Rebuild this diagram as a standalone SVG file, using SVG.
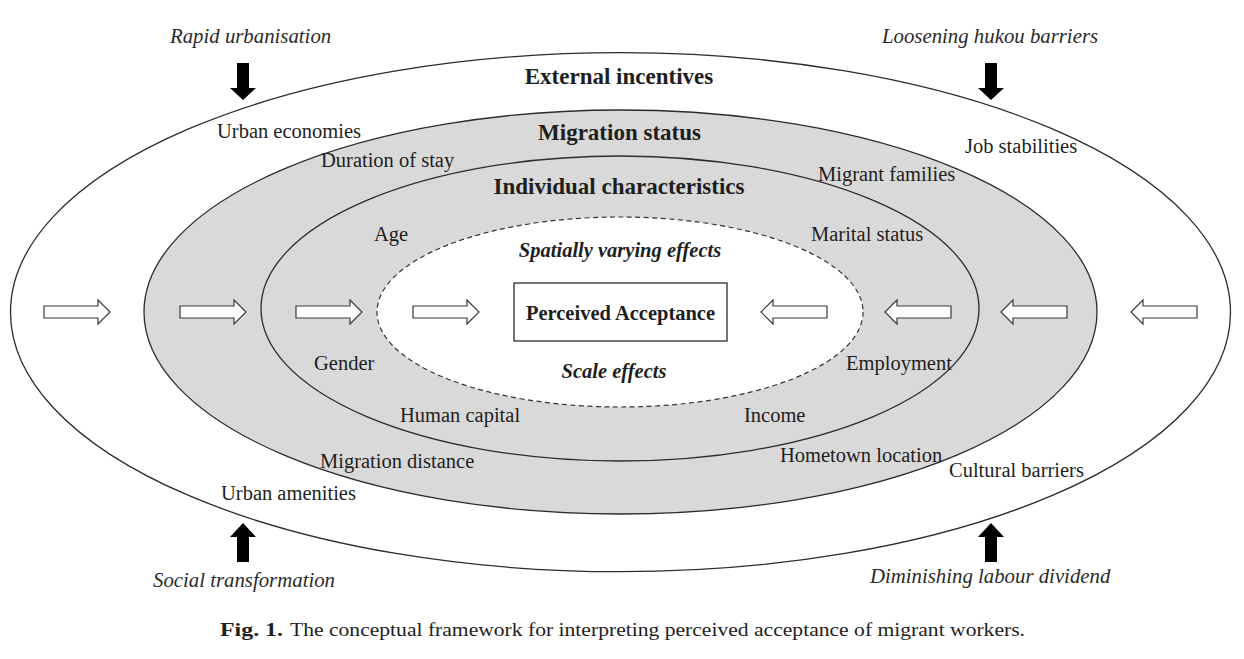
<svg xmlns="http://www.w3.org/2000/svg" xmlns:xlink="http://www.w3.org/1999/xlink" width="1244" height="659" viewBox="0 0 1244 659">
<style>
text{font-family:"Liberation Serif","Times New Roman",serif;fill:#1e1e1e}
.lbl{font-size:20.5px}
.ttl{font-size:23px;font-weight:bold;text-anchor:middle}
.bi{font-size:20.5px;font-weight:bold;font-style:italic;text-anchor:middle}
.it{font-size:20.8px;font-style:italic;fill:#2a2a2a}
.ring{stroke:#2b2b2b;stroke-width:1.3}
.hollow{fill:#fff;stroke:#3a3a3a;stroke-width:1.2}
.solid{fill:#000}
</style>
<defs>
<path id="ra" d="M0,-6 H54 V-12 L66,0 L54,12 V6 H0 Z"/>
<path id="la" d="M0,-6 H-54 V-12 L-66,0 L-54,12 V6 H0 Z"/>
<path id="da" d="M-6,0 H6 V25 H13 L0,37 L-13,25 H-6 Z"/>
<path id="ua" d="M-6,0 H6 V-25 H13 L0,-39 L-13,-25 H-6 Z"/>
</defs>
<rect width="1244" height="659" fill="#fff"/>

<g id="external-incentives">
<ellipse class="ring" cx="620.5" cy="312.2" rx="610" ry="259.5" fill="#fff"/>
<text class="ttl" x="619" y="84">External incentives</text>
</g>
<g id="migration-status">
<ellipse class="ring" cx="620.5" cy="312" rx="476.5" ry="202" fill="#d9d9d9"/>
<text class="ttl" x="619.5" y="140">Migration status</text>
</g>
<g id="individual-characteristics">
<ellipse class="ring" cx="620" cy="308.5" rx="359" ry="152.5" fill="#d9d9d9"/>
<text class="ttl" x="619" y="194">Individual characteristics</text>
</g>
<g id="spatial-scale-effects">
<ellipse cx="620" cy="312" rx="243" ry="95" fill="#fff" stroke="#333" stroke-width="1.2" stroke-dasharray="5,3.5"/>
<text class="bi" x="620" y="257">Spatially varying effects</text>
<text class="bi" x="614" y="378">Scale effects</text>
</g>
<g id="perceived-acceptance">
<rect x="514" y="283" width="213" height="58" fill="#fff" stroke="#2b2b2b" stroke-width="1.3"/>
<text x="620.5" y="320" font-size="20.5" font-weight="bold" text-anchor="middle">Perceived Acceptance</text>
</g>

<g id="external-factors">
<text class="lbl" x="217" y="138">Urban economies</text>
<text class="lbl" x="965" y="153">Job stabilities</text>
<text class="lbl" x="221" y="500">Urban amenities</text>
<text class="lbl" x="949" y="477">Cultural barriers</text>
</g>
<g id="migration-factors">
<text class="lbl" x="321" y="167">Duration of stay</text>
<text class="lbl" x="818" y="181">Migrant families</text>
<text class="lbl" x="320" y="468">Migration distance</text>
<text class="lbl" x="780" y="462">Hometown location</text>
</g>
<g id="individual-factors">
<text class="lbl" x="374" y="241">Age</text>
<text class="lbl" x="811" y="241">Marital status</text>
<text class="lbl" x="314" y="370">Gender</text>
<text class="lbl" x="846" y="370">Employment</text>
<text class="lbl" x="400" y="422">Human capital</text>
<text class="lbl" x="744" y="422">Income</text>
</g>
<g id="drivers">
<text class="it" x="170" y="43">Rapid urbanisation</text>
<text class="it" x="882" y="43">Loosening hukou barriers</text>
<text class="it" x="153" y="587">Social transformation</text>
<text class="it" x="870" y="583">Diminishing labour dividend</text>
</g>

<g id="connectors">
<use href="#ra" xlink:href="#ra" class="hollow" x="44" y="312"/>
<use href="#ra" xlink:href="#ra" class="hollow" x="180" y="312"/>
<use href="#ra" xlink:href="#ra" class="hollow" x="296" y="312"/>
<use href="#ra" xlink:href="#ra" class="hollow" x="413" y="312"/>
<use href="#la" xlink:href="#la" class="hollow" x="827" y="312"/>
<use href="#la" xlink:href="#la" class="hollow" x="951" y="312"/>
<use href="#la" xlink:href="#la" class="hollow" x="1067" y="312"/>
<use href="#la" xlink:href="#la" class="hollow" x="1197" y="312"/>
<use href="#da" xlink:href="#da" class="solid" x="243" y="63"/>
<use href="#da" xlink:href="#da" class="solid" x="991" y="63"/>
<use href="#ua" xlink:href="#ua" class="solid" x="243" y="562"/>
<use href="#ua" xlink:href="#ua" class="solid" x="991" y="562"/>
</g>

<g id="caption">
<text x="220" y="636" font-size="19" font-weight="bold" textLength="63" lengthAdjust="spacingAndGlyphs">Fig. 1.</text>
<text x="290" y="636" font-size="19" textLength="735" lengthAdjust="spacingAndGlyphs">The conceptual framework for interpreting perceived acceptance of migrant workers.</text>
</g>
</svg>
